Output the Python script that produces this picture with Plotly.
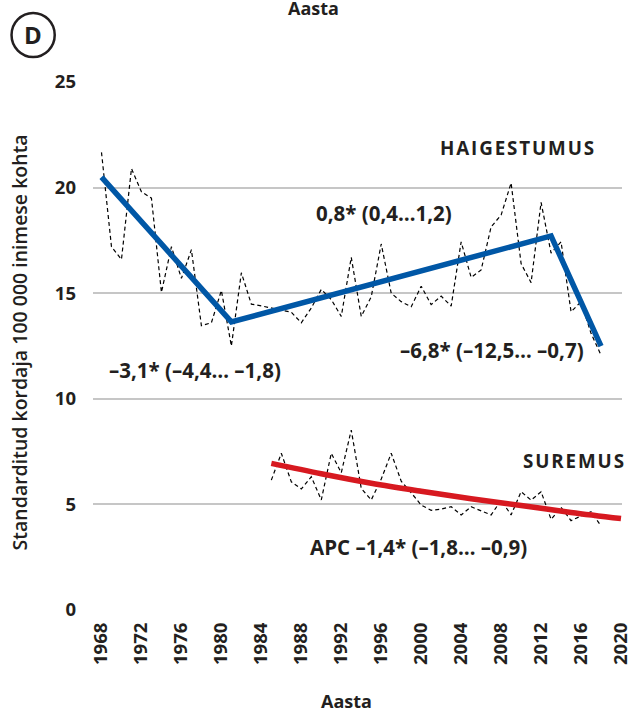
import plotly.graph_objects as go

# ---- data ----
inc_years = list(range(1968, 2019))
incidence = [21.67, 17.2, 16.6, 20.9, 19.8, 19.5, 15.04, 17.2, 15.7, 17.06,
             13.46, 13.6, 15.13, 12.5, 15.97, 14.48, 14.4, 14.3, 14.2, 14.1,
             13.6, 14.3, 15.18, 14.7, 13.9, 16.7, 13.9, 14.83, 17.33, 15.0,
             14.6, 14.36, 15.33, 14.46, 14.86, 14.39, 17.43, 15.75, 16.1, 18.14,
             18.7, 20.22, 16.4, 15.5, 19.3, 16.9, 17.43, 14.12, 14.6, 13.1, 12.07]

mort_years = list(range(1985, 2019))
mortality = [6.15, 7.42, 6.07, 5.73, 6.31, 5.21, 7.42, 6.5, 8.52, 5.76,
             5.21, 6.2, 7.42, 6.1, 5.55, 4.97, 4.72, 4.78, 4.89, 4.5,
             4.89, 4.7, 4.5, 5.2, 4.5, 5.6, 5.2, 5.6, 4.29, 4.86,
             4.23, 4.45, 4.65, 3.98]

inc_trend_years = [1968, 1981, 2013, 2018]
inc_trend = [20.5, 13.64, 17.71, 12.49]

mort_trend_years = [1985, 1990, 1995, 2000, 2005, 2010, 2015, 2020]
mort_trend = [6.94, 6.45, 6.0, 5.62, 5.27, 4.95, 4.62, 4.33]

x_ticks = list(range(1968, 2021, 4))
y_ticks = [0, 5, 10, 15, 20, 25]

labels = {
    "inc_name": "HAIGESTUMUS",
    "mort_name": "SUREMUS",
    "seg1": "–3,1* (–4,4… –1,8)",
    "seg2": "0,8* (0,4…1,2)",
    "seg3": "–6,8* (–12,5… –0,7)",
    "mort_apc": "APC –1,4* (–1,8… –0,9)",
}

BLUE = "#0057a6"
RED = "#d71920"
TXT = "#231f20"
FONT = "Open Sans"

# plot area in pixels
L, R, T, B = 93, 632, 82, 610
W, H = 637, 712

def px(xp):
    return (xp - L) / (R - L)

def py(yp):
    return (B - yp) / (B - T)

fig = go.Figure()
fig.add_trace(go.Scatter(x=inc_years, y=incidence, mode="lines",
                         line=dict(color="black", width=1.2, dash="4px,3px"),
                         hoverinfo="skip", showlegend=False))
fig.add_trace(go.Scatter(x=mort_years, y=mortality, mode="lines",
                         line=dict(color="black", width=1.2, dash="4px,3px"),
                         hoverinfo="skip", showlegend=False))
fig.add_trace(go.Scatter(x=inc_trend_years, y=inc_trend, mode="lines",
                         line=dict(color=BLUE, width=5.5),
                         hoverinfo="skip", showlegend=False))
fig.add_trace(go.Scatter(x=mort_trend_years, y=mort_trend, mode="lines",
                         line=dict(color=RED, width=5.5, shape="spline"),
                         hoverinfo="skip", showlegend=False))

def ann(text, xp, yp, size=19, angle=0, weight="bold", spaced=False):
    if spaced:
        text = "\u200a".join(text)
    fig.add_annotation(text=text, x=px(xp), y=py(yp), xref="paper", yref="paper",
                       showarrow=False, textangle=angle,
                       font=dict(family=FONT, size=size, color=TXT, weight=weight),
                       xanchor="center", yanchor="middle")

ann(labels["inc_name"], 525, 148, size=18.8, spaced=True)
ann(labels["mort_name"], 583, 461, size=18.8, spaced=True)
ann(labels["seg2"], 389, 213, size=20.5)
ann(labels["seg1"], 197, 370, size=20.5)
ann(labels["seg3"], 500, 350, size=20.5)
ann(labels["mort_apc"], 425, 547, size=20.5)
ann("Aasta", 351, 701, size=18)
ann("Aasta", 318, 8, size=18)
ann("Standarditud kordaja 100 000 inimese kohta", 18, 342, size=19.5, angle=-90, weight=600)
ann("D", 32, 35, size=24)

fig.add_shape(type="circle", xref="paper", yref="paper",
              x0=px(10), x1=px(54), y0=py(57), y1=py(13),
              line=dict(color=TXT, width=2.5))

fig.update_layout(
    width=W, height=H,
    margin=dict(l=L, r=W - R, t=T, b=H - B, pad=0),
    paper_bgcolor="white", plot_bgcolor="white",
    xaxis=dict(range=[1967.15, 2020.1], tickvals=x_ticks, tickangle=-90,
               showgrid=False, zeroline=False, showline=False, ticks="",
               ticklabelstandoff=8, ticklabeloverflow="allow",
               tickfont=dict(family=FONT, size=18.5, color=TXT, weight="bold")),
    yaxis=dict(range=[0, 25], tickvals=y_ticks, showgrid=True,
               gridcolor="#c6c6c6", gridwidth=1.5, zeroline=False, showline=False,
               ticks="", ticklabelstandoff=16,
               tickfont=dict(family=FONT, size=18.5, color=TXT, weight="bold")),
)

fig.write_html("out.html", config={"displayModeBar": False},
               post_script="document.body.style.margin='0px';document.body.style.overflow='hidden';")
